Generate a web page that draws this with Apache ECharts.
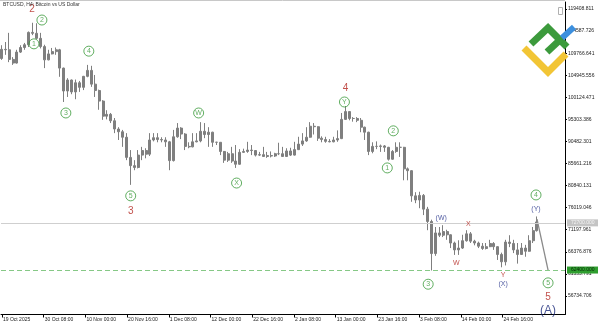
<!DOCTYPE html>
<html><head><meta charset="utf-8">
<script src="https://cdn.jsdelivr.net/npm/echarts@6/dist/echarts.min.js"></script>
<style>html,body{margin:0;padding:0;background:#fff}#c{width:598px;height:326px}</style>
</head><body><div id="c"></div>
<script>
const title = 'BTCUSD, H4: Bitcoin vs US Dollar';
const startDate = '2025-10-19';
// daily [open, close, low, high]
const ohlc = [
[108600,110600,108300,111500],[110600,110500,109400,112200],[110500,108400,107800,114200],[108400,107600,107200,108900],
[107600,110000,107500,110500],[110000,111000,109800,111500],[111000,111600,110500,112000],[111600,114300,111100,114500],
[114300,114100,113700,116400],[114100,113000,112800,116300],[113000,111200,110800,114200],[111200,108300,106500,111600],
[108300,109600,108200,110500],
[109600,110100,109500,110900],[110100,110500,109400,111000],[110500,106500,104600,110700],[106500,101500,99100,106600],
[101500,103900,100200,104300],[103900,101300,100800,104000],[101300,103300,99700,104000],[103300,102300,101300,103700],
[102300,104700,101700,104800],[104700,106000,104500,107200],[106000,103000,102400,107000],[103000,101600,100200,105000],
[101600,99300,97400,101800],[99300,96000,95200,99500],[96000,96400,95300,97300],[96400,95000,94500,96700],
[95000,93200,92300,95600],[93200,92600,90800,93600],[92600,91400,89300,93000],[91400,87000,86400,92300],
[87000,85200,81000,88600],[85200,84800,84200,86400],[84800,87500,84600,88600],[87500,88500,86400,89300],
[88500,87700,86800,89000],[87700,90800,87300,92300],[90800,91300,90500,92300],[91300,90900,90300,92300],
[90900,90800,90300,91400],[90800,90400,89300,91400],
[90400,86300,84200,90600],[86300,91500,86100,93000],[91500,93400,91300,94500],[93400,92100,91000,93600],
[92100,89400,88600,92300],[89400,89300,89000,90300],[89300,90400,89200,92300],[90400,90600,90300,92300],
[90600,92700,90300,94700],[92700,92000,91200,94500],[92000,92500,89300,93600],[92500,90300,89300,92600],
[90300,90300,89700,90400],[90300,88300,87500,90300],[88300,86400,85800,88400],[86400,87800,86000,88200],
[87800,86200,85800,89300],[86200,85500,84700,89700],[85500,88100,85400,88800],[88100,88300,88000,88900],
[88300,88600,88000,90400],[88600,88500,87500,89700],[88500,87500,87200,88600],[87500,87600,87300,88200],
[87600,87200,87100,89300],[87200,87400,86900,88200],[87400,87300,87000,88300],[87300,87800,87100,88000],
[87800,87800,87500,90200],[87800,87200,87100,89300],[87200,88400,87100,89000],
[88400,87500,87300,89100],[87500,88700,87400,90400],[88700,89900,88600,91500],[89900,90600,89500,92300],
[90600,91400,90400,93600],[91400,93800,91300,94700],[93800,93700,92000,94500],[93700,91200,90600,93800],
[91200,90900,90300,91600],[90900,90500,90200,91500],[90500,90400,90300,91000],[90400,90800,90300,91500],
[90800,91100,90400,92900],[91100,95300,91000,96700],[95300,97000,95200,98200],[97000,95500,95100,97100],
[95500,95500,94800,95800],[95500,95100,94700,95800],[95100,93600,92500,95600],[93600,92500,90800,93700],
[92500,88300,87500,92600],[88300,89400,87900,90300],[89400,89400,88800,90500],[89400,89500,88200,89800],
[89500,89200,88200,89700],[89200,86600,86300,89300],[86600,88300,86500,88600],[88300,89200,88000,90300],
[89200,89200,87100,90300],[89200,84500,82000,89300],[84500,84100,82000,84800],
[84100,78600,77300,84200],[78600,77700,77000,79400],[77700,78700,75900,79500],[78700,75700,74400,79000],
[75700,73000,71100,76200],[73000,66000,62300,73400],[66000,70500,65500,71800],[70500,70000,69600,71800],
[70000,70800,69600,72200],[70800,70100,69000,71200],[70100,68300,67200,70200],[68300,66800,65700,68600],
[66800,67200,65700,68900],[67200,68800,67000,70100],[68800,70300,68600,71100],[70300,68700,68300,70700],
[68700,68300,67800,69000],[68300,67600,67200,68600],[67600,67100,66800,68300],[67100,67500,66900,68300],
[67500,68200,67400,69000],[68200,67500,66800,68500],[67500,65800,64600,67600],[65800,64200,63000,66200],
[64200,68500,63400,69000],[68500,68200,67400,70000],[68200,66800,66100,69000],[66800,65800,63800,68300],
[65800,67200,65700,68300],[67200,66500,65300,67900],[66500,68800,66400,70000],[68800,71000,68300,71800],
[71000,72900,70800,74100]
];
const xTickTimes = ['2025-10-19 16:00','2025-10-30 08:00','2025-11-10 00:00','2025-11-20 16:00','2025-12-01 08:00','2025-12-12 00:00','2025-12-22 16:00','2026-01-02 08:00','2026-01-13 00:00','2026-01-23 16:00','2026-02-03 08:00','2026-02-14 00:00','2026-02-24 16:00'];
const xTickLabels = ['19 Oct 2025','30 Oct 08:00','10 Nov 00:00','20 Nov 16:00','1 Dec 08:00','12 Dec 00:00','22 Dec 16:00','2 Jan 08:00','13 Jan 00:00','23 Jan 16:00','3 Feb 08:00','14 Feb 00:00','24 Feb 16:00'];
const yTicks = [119408.811,114587.726,109766.641,104945.556,100124.471,95303.386,90482.301,85661.216,80840.131,76019.046,71197.961,66376.876,61555.791,56734.706];
const grayLevel = 72700;
const greenLevel = 62400;
const projection = [['2026-03-05 12:00',73500],['2026-03-08 08:00',62400]];
const circledMarks = [
 ['2025-10-27 20:00',111800,'1'],['2025-10-29 21:00',117000,'2'],['2025-11-05 00:00',96700,'3'],
 ['2025-11-10 21:00',110200,'4'],['2025-11-21 14:00',78600,'5'],['2025-12-08 23:00',96700,'W'],
 ['2025-12-18 16:00',81400,'X'],['2026-01-15 06:00',99100,'Y'],['2026-01-26 05:00',84700,'1'],
 ['2026-01-27 18:00',92800,'2'],['2026-02-05 16:00',59300,'3'],['2026-03-05 06:00',78800,'4'],
 ['2026-03-08 08:00',59600,'5']
];
const redNumbers = [['2025-10-27 08:00',119400,'2'],['2025-11-21 14:00',75300,'3'],['2026-01-15 12:00',102200,'4'],['2026-03-08 08:00',56500,'5']];
const navyLetters = [['2026-02-09 00:00',73800,'(W)'],['2026-02-24 20:00',59300,'(X)'],['2026-03-05 06:00',75700,'(Y)']];
const navyBig = [['2026-03-08 08:00',53500,'(A)']];
const redLetters = [['2026-02-12 20:00',63900,'W'],['2026-02-15 22:00',72500,'X'],['2026-02-24 20:00',61300,'Y']];

function ts(s){const p=s.split(' ');const d=p[0].split('-').map(Number);const t=(p[1]||'00:00').split(':').map(Number);return Date.UTC(d[0],d[1]-1,d[2],t[0],t[1]);}
const H = 3600000;
const day0 = ts(startDate);
const candleData = ohlc.map((r,i)=>[day0 + i*24*H + 12*H, r[0], r[1], r[2], r[3]]);
const tickTs = xTickTimes.map(ts);
const PXH = 0.1632, PLOT_W = 565;
const xMin = ts('2025-10-19 16:00') - (1/PXH)*H;
const xMax = xMin + (PLOT_W/PXH)*H;
const FONT = 'Liberation Sans';
const RED = '#b3241e', GREEN = '#3a9a3a', NAVY = '#27348b';
const BAR = '#7f7f7f';
const mk = arr => arr.map(a=>[ts(a[0]),a[1],a[2]]);
function labelSeries(arr, color, size){
  return {type:'scatter', data: mk(arr), symbol:'circle', symbolSize:1,
    itemStyle:{color:'rgba(0,0,0,0)'}, silent:true, z:5,
    label:{show:true, position:'inside', formatter:p=>p.data[2], color:color, fontSize:size, fontFamily:FONT}};
}
const chart = echarts.init(document.getElementById('c'), null, {renderer:'canvas'});
chart.setOption({
  animation:false,
  backgroundColor:'#fff',
  grid:{left:0, right:33, top:2, bottom:11.5, show:false, containLabel:false},
  xAxis:{type:'value', min:xMin, max:xMax, scale:true,
    axisLine:{show:true, onZero:false, lineStyle:{color:'#000', width:1}},
    axisTick:{show:true, customValues:tickTs, length:3, lineStyle:{color:'#000'}},
    splitLine:{show:false},
    axisLabel:{customValues:tickTs, align:'left', margin:3, padding:[0,0,0,1], fontSize:5, color:'#222', fontFamily:FONT,
      formatter:(v)=>{const i=tickTs.indexOf(v);return i>=0?xTickLabels[i]:'';}}
  },
  yAxis:{type:'value', position:'right', min:52688, max:120938,
    axisLine:{show:true, onZero:false, lineStyle:{color:'#000', width:1}},
    axisTick:{show:true, customValues:yTicks, length:2, lineStyle:{color:'#000'}},
    splitLine:{show:false},
    axisLabel:{customValues:yTicks, margin:3, fontSize:5, color:'#222', fontFamily:FONT, formatter:v=>v.toFixed(3)}
  },
  series:[
    {type:'candlestick', data:candleData, barWidth:2.5,
      itemStyle:{color:BAR, color0:BAR, borderColor:BAR, borderColor0:BAR, borderWidth:1},
      markLine:{silent:true, symbol:'none', animation:false,
        data:[
          {yAxis:grayLevel, lineStyle:{color:'#cfcfcf', width:1, type:'solid'},
           label:{show:true, position:'end', distance:2, formatter:grayLevel.toFixed(3), fontSize:5, color:'#f4f4f4', backgroundColor:'#c4c4c4', padding:[1,4,1,4], fontFamily:FONT}},
          {yAxis:greenLevel, lineStyle:{color:'#86c886', width:1, type:[5,3]},
           label:{show:true, position:'end', distance:2, formatter:greenLevel.toFixed(3), fontSize:5, color:'#062a06', backgroundColor:'#2f9e2f', padding:[1,4,1,4], fontFamily:FONT}}
        ]}
    },
    {type:'line', data:projection.map(p=>[ts(p[0]),p[1]]), symbol:'none', silent:true,
      lineStyle:{color:'#8a8a8a', width:1.3}},
    {type:'scatter', data:mk(circledMarks), symbol:'circle', symbolSize:10, silent:true, z:5,
      itemStyle:{color:'rgba(255,255,255,0)', borderColor:GREEN, borderWidth:1},
      label:{show:true, position:'inside', formatter:p=>p.data[2], color:GREEN, fontSize:7, fontFamily:FONT}},
    labelSeries(redNumbers, RED, 10),
    labelSeries(navyLetters, NAVY, 7),
    labelSeries(navyBig, '#1c2a7a', 12),
    labelSeries(redLetters, RED, 7)
  ],
  graphic:[
    {type:'text', left:3, top:2, style:{text:title, fontSize:5, fill:'#333', fontFamily:FONT}, z:10},
    {type:'line', shape:{x1:0,y1:0.5,x2:565,y2:0.5}, style:{stroke:'#c8c8c8', lineWidth:1}, z:1},
    {type:'rect', shape:{x:558.5,y:7.5,width:4,height:7}, style:{fill:null, stroke:'#b0b0b0', lineWidth:1}, z:10},
    {type:'polyline', shape:{points:[[524,48],[548,72],[566,54]]}, style:{stroke:'#f2c535', lineWidth:7, fill:null}, z:20},
    {type:'polyline', shape:{points:[[531,44],[548,28],[567,47]]}, style:{stroke:'#3c9a3c', lineWidth:7, fill:null}, z:21},
    {type:'polyline', shape:{points:[[547,52],[562,38]]}, style:{stroke:'#3c9a3c', lineWidth:7, fill:null}, z:21},
    {type:'polyline', shape:{points:[[562,38],[574,27]]}, style:{stroke:'#3b8fde', lineWidth:6, fill:null}, z:22}
  ]
});
</script></body></html>
